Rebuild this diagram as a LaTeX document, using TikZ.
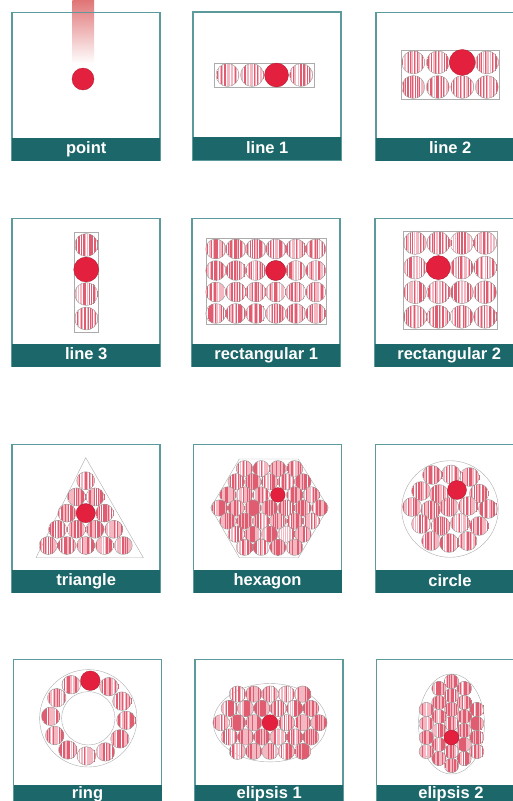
\documentclass[tikz,border=0pt]{standalone}
\usepackage{fontspec}
\setmainfont{Liberation Sans}
\usepackage{tikz}
\usetikzlibrary{calc}
\usepackage{xcolor}

\definecolor{framecol}{HTML}{5C9A9C}
\definecolor{barcol}{HTML}{1B6769}
\definecolor{dotred}{HTML}{E3213E}
\definecolor{stripeA}{HTML}{D8344E}
\definecolor{stripeB}{HTML}{F3B8C2}
\definecolor{fadered}{HTML}{E07476}

% striped sample disc: x, y, radius
\newcommand{\stripedot}[3]{%
  \foreach \k in {1,...,16}{%
    \pgfmathsetmacro\dx{-(#3)+(\k-0.5+0.25*rand)*(#3)/8}%
    \pgfmathsetmacro\hh{sqrt(max((#3)*(#3)-\dx*\dx,0))}%
    \pgfmathrandominteger{\sc}{1}{2}%
    \ifnum\sc=1 \draw[darkline] ($(#1,#2)+(\dx,-\hh)$) -- ($(#1,#2)+(\dx,\hh)$);\fi
    \ifnum\sc=2 \draw[lightline] ($(#1,#2)+(\dx,-\hh)$) -- ($(#1,#2)+(\dx,\hh)$);\fi
  }
  \draw[dotline] (#1,#2) circle[radius=#3];
}

% frame with label bar: [bar options] name, x, y, label
\newcommand{\panel}[5][]{%
  \draw[frame] (#3,#4) rectangle ++(148,148);
  \node[bar,#1] (#2) at (#3,#4+125) {#5};
}

\begin{document}
\begin{tikzpicture}[x=1pt, y=-1pt,
  frame/.style={draw=framecol, line width=1.2pt},
  bar/.style={fill=barcol, text=white, font=\bfseries\fontsize{16.5}{18}\selectfont,
    minimum width=148pt, minimum height=23pt, inner sep=0pt,
    text height=12.5pt, text depth=3pt, anchor=north west},
  holder/.style={draw=gray!65, line width=0.4pt},
  dotline/.style={draw=gray!75, line width=0.45pt},
  darkline/.style={draw=stripeA!80, line width=0.25pt},
  lightline/.style={draw=stripeB, line width=0.6pt},
  reddot/.style={fill=dotred, draw=dotred!75!black, line width=0.3pt}
]
  \useasboundingbox (0,0) rectangle (512,801);
  \pgfmathsetseed{42}

  % Point (beam from above)
  \shade[top color=fadered, bottom color=white] (72.3,0) rectangle (94,64);

  % Frames and labels
  \panel{point}{12}{12.5}{point}
  \panel{lineA}{193}{12}{line 1}
  \panel{lineB}{376}{12.3}{line 2}
  \panel{lineC}{12}{218.3}{line 3}
  \panel{rectA}{192}{218.3}{rectangular 1}
  \panel{rectB}{375}{218.3}{rectangular 2}
  \panel{tri}{12}{444.3}{triangle}
  \panel{hex}{193.3}{444.3}{hexagon}
  \panel{circ}{375.7}{444.7}{circle}
  \panel[text height=11pt, text depth=6pt]{ring}{13.3}{659.3}{ring}
  \panel[text height=11pt, text depth=6pt]{ellA}{195}{659.3}{elipsis 1}
  \panel[text height=11pt, text depth=6pt]{ellB}{376.7}{659.3}{elipsis 2}

  % Point
  \draw[reddot] (83,79) circle[radius=11];

  % Line 1
  \draw[holder] (214.3,62.7) rectangle (314.3,87.3);
  \foreach \i in {0,1,3} \stripedot{227.5+24.5*\i}{75}{11.5};
  \draw[reddot] (276.5,75) circle[radius=12];

  % Line 2
  \draw[holder] (400.7,50) rectangle (499.3,99.3);
  \foreach \i in {0,...,3} \foreach \j in {0,1} \stripedot{413.25+24.5*\i}{62.4+24.6*\j}{11.5};
  \draw[reddot] (462.25,62.4) circle[radius=13];

  % Line 3
  \draw[holder] (74,231.7) rectangle (98.4,331.7);
  \foreach \i in {0,2,3} \stripedot{86.2}{245+24.5*\i}{11.5};
  \draw[reddot] (86.2,269.5) circle[radius=12.5];

  % Rectangular 1
  \draw[holder] (205.7,238.3) rectangle (325.7,324.3);
  \foreach \i in {0,...,5} \foreach \j in {0,...,3} \stripedot{215.7+20*\i}{249+21.5*\j}{10};
  \draw[reddot] (275.7,270.5) circle[radius=10];

  % Rectangular 2
  \draw[holder] (403.3,230.7) rectangle (496.7,329);
  \foreach \i in {0,...,3} \foreach \j in {0,...,3} \stripedot{415+23.35*\i}{243+24.6*\j}{11.5};
  \draw[reddot] (438.35,267.6) circle[radius=12];

  % Triangle
  \draw[holder] (85.7,457.7) -- (36,557.7) -- (143.3,557.7) -- cycle;
  \foreach \m in {0,...,4} \foreach \n in {0,...,\m} \stripedot{85.7+18.8*\n-9.4*\m}{480.7+16.2*\m}{9};
  \draw[reddot] (85.7,513.1) circle[radius=9.6];

  % Hexagon
  \draw[holder] (239.3,459) -- (298.3,459) -- (328.3,507.7) -- (298.3,557.7)
    -- (239.3,557.7) -- (210.7,507.7) -- cycle;
  \foreach \m in {0,...,6}{
    \pgfmathtruncatemacro\cnt{7-abs(\m-3)}
    \foreach \n in {1,...,\cnt}{
      \pgfmathtruncatemacro\isred{and(\m==2,\n==4)}
      \pgfmathsetmacro\hx{269.5+(\n-(\cnt+1)/2)*16.7}
      \pgfmathsetmacro\hy{508+(\m-3)*13.1}
      \ifnum\isred=0 \stripedot{\hx}{\hy}{8.2}\fi
    }
  }
  \draw[reddot] (277.85,494.9) circle[radius=7.3];

  % Circle
  \draw[holder] (450,509) circle[radius=48.3];
  \foreach \px/\py in {-18/-34, 1/-34.5, 19.5/-32, -29/-18, -11/-15, 29/-15.5,
      -38/-2, -19.5/1, -1/-2, 18/-3, 38/0, -29/15, -9.5/17, 10/14, 29/17,
      -19/32, -1/34, 17.5/32}
    \stripedot{450+\px}{509+\py}{9.5};
  \draw[reddot] (457,490) circle[radius=9.5];

  % Ring
  \draw[holder] (88.3,718.3) circle[radius=48.7];
  \draw[holder] (88.3,718.3) circle[radius=26.7];
  \foreach \a in {1,...,11}{
    \pgfmathsetmacro\hx{88.3+37.7*cos(87+30*\a)}
    \pgfmathsetmacro\hy{718.3-37.7*sin(87+30*\a)}
    \stripedot{\hx}{\hy}{9.3}
  }
  \draw[reddot] (90.3,680.7) circle[radius=9.8];

  % Elipsis 1
  \draw[holder] (270,722.7) ellipse[x radius=56.7, y radius=39.2];
  \foreach \m in {0,...,4}{
    \pgfmathtruncatemacro\cnt{7-abs(\m-2)}
    \foreach \n in {1,...,\cnt}{
      \pgfmathtruncatemacro\isred{and(\m==2,\n==4)}
      \pgfmathsetmacro\hx{270+(\n-(\cnt+1)/2)*16.3}
      \pgfmathsetmacro\hy{722.7+(\m-2)*14.3}
      \ifnum\isred=0 \stripedot{\hx}{\hy}{8.2}\fi
    }
  }
  \draw[reddot] (270,722.7) circle[radius=8];

  % Elipsis 2
  \draw[holder] (451.5,724) ellipse[x radius=33, y radius=50];
  \foreach \n in {-3,...,3} \stripedot{451.5}{723.5+14*\n}{7.2};
  \foreach \m in {-1,1} \foreach \n in {-2.5,-1.5,...,2.5} \stripedot{451.5+12.6*\m}{723.5+14*\n}{7.2};
  \foreach \m in {-2,2} \foreach \n in {-1,...,2} \stripedot{451.5+12.6*\m}{723.5+14*\n}{7.2};
  \draw[reddot] (451.5,737.5) circle[radius=7.5];
\end{tikzpicture}
\end{document}
